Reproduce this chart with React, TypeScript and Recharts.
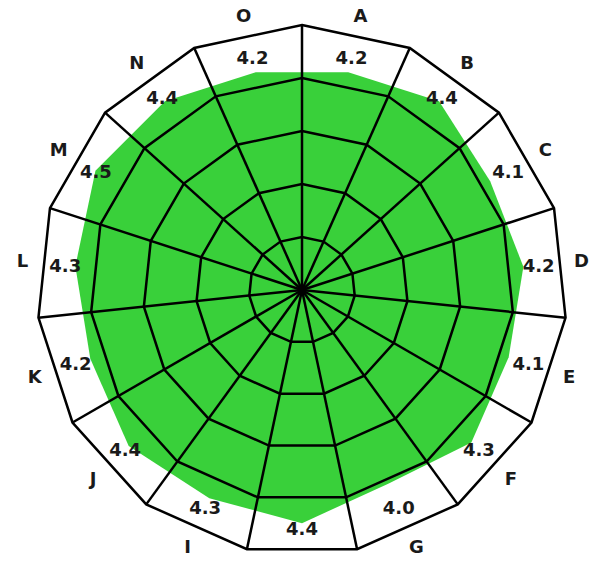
import React from "react";
import { RadarChart, Radar, PolarGrid, PolarAngleAxis, PolarRadiusAxis } from "recharts";

const categories = ["A","B","C","D","E","F","G","H","I","J","K","L","M","N","O"];
const values = [4.2,4.4,4.1,4.2,4.1,4.3,4.0,4.4,4.3,4.4,4.2,4.3,4.5,4.4,4.2];
const data = categories.map((c, i) => ({ cat: c, value: values[i] }));

const W = 593, H = 565, CX = 302, CY = 290, R = 265;

const Tick = (props: any) => {
  const { payload, index, cx, cy, x, y } = props;
  const dx = x - cx, dy = y - cy;
  const d = Math.sqrt(dx * dx + dy * dy) || 1;
  const ux = dx / d, uy = dy / d;
  const v = values[index];
  return (
    <g>
      <text x={cx + ux * 281} y={cy + uy * 281} textAnchor="middle" dominantBaseline="central"
        fontSize={18} fontWeight="bold" fill="#1a1a1a" fontFamily="DejaVu Sans">{payload.value}</text>
      <text x={cx + ux * 238} y={cy + uy * 238} textAnchor="middle" dominantBaseline="central"
        fontSize={18} fontWeight="bold" fill="#1a1a1a" fontFamily="DejaVu Sans">{v.toFixed(1)}</text>
    </g>
  );
};

export default function App() {
  return (
    <div style={{ position: "absolute", left: 0, top: 0, width: W, height: H, background: "#fff" }}>
      <div style={{ position: "absolute", left: 0, top: 0 }}>
        <RadarChart width={W} height={H} data={data} cx={CX} cy={CY} outerRadius={R} startAngle={78} endAngle={-282}>
          <PolarRadiusAxis domain={[0, 5]} tick={false} axisLine={false} />
          <PolarAngleAxis dataKey="cat" tick={<Tick />} axisLine={false} tickLine={false} />
          <Radar dataKey="value" fill="#39d03a" fillOpacity={1} stroke="none" isAnimationActive={false} />
        </RadarChart>
      </div>
      <div style={{ position: "absolute", left: 0, top: 0 }}>
        <RadarChart width={W} height={H} data={data} cx={CX} cy={CY} outerRadius={R} startAngle={90} endAngle={-270}>
          <PolarGrid gridType="polygon" stroke="#000" strokeWidth={2.5} strokeOpacity={1} />
          <PolarRadiusAxis domain={[0, 5]} tickCount={6} tick={false} axisLine={false} />
          <PolarAngleAxis dataKey="cat" tick={false} axisLine={false} tickLine={false} />
          <Radar dataKey="value" fill="none" stroke="none" isAnimationActive={false} />
        </RadarChart>
      </div>
    </div>
  );
}
